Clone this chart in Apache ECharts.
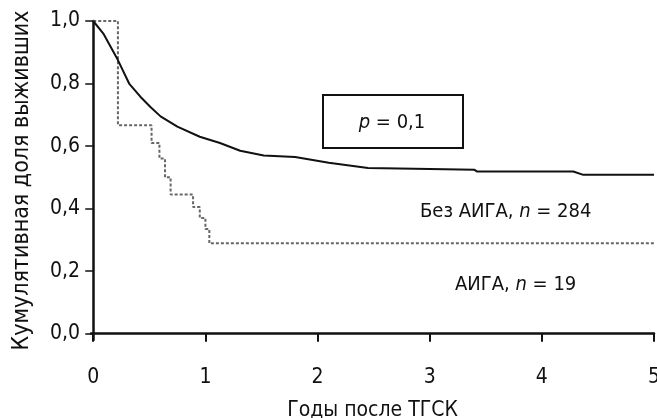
<!DOCTYPE html>
<html>
<head>
<meta charset="utf-8">
<script src="https://cdn.jsdelivr.net/npm/echarts@6/dist/echarts.min.js"></script>
<style>
  html, body { margin: 0; padding: 0; background: #fff; }
  #main { width: 657px; height: 418px; }
</style>
</head>
<body>
<div id="main"></div>
<script>
// Группа без АИГА (n = 284): годы и доля выживших
const noAigaYears = [0, 0.09, 0.22, 0.32, 0.42, 0.51, 0.6, 0.75, 0.95, 1.13, 1.31, 1.52, 1.8, 2.1, 2.45, 3.0, 3.4, 3.42, 4.28, 4.37, 5.0];
const noAigaSurv  = [1.0, 0.96, 0.875, 0.80, 0.758, 0.725, 0.695, 0.662, 0.63, 0.61, 0.585, 0.57, 0.565, 0.547, 0.53, 0.527, 0.524, 0.519, 0.519, 0.508, 0.508];

// Группа АИГА (n = 19): ступенчатая кривая
const aigaYears = [0, 0.22, 0.52, 0.59, 0.64, 0.69, 0.89, 0.95, 1.0, 1.035, 5.0];
const aigaSurv  = [1.0, 0.667, 0.61, 0.56, 0.50, 0.445, 0.405, 0.37, 0.335, 0.289, 0.289];

// подписи осей
const xTicks = [0, 1, 2, 3, 4, 5];
const yTicks = [0, 0.2, 0.4, 0.6, 0.8, 1.0];

const font = "'Liberation Sans Narrow', 'DejaVu Sans Condensed', 'Noto Sans'";
const chart = echarts.init(document.getElementById('main'));

const zip = (xs, ys) => xs.map((x, i) => [x, ys[i]]);

const richText = {
  i: { fontFamily: font, fontSize: 20, fontStyle: 'italic', fill: '#111' },
  a: { fontFamily: font, fontSize: 20, fill: '#111' }
};

chart.setOption({
  animation: false,
  backgroundColor: '#fff',
  textStyle: { fontFamily: font },
  grid: { left: 91, right: 3, top: 21, bottom: 78, outerBoundsMode: 'none', containLabel: false },
  xAxis: {
    type: 'value',
    min: -0.02,
    max: 5,
    name: 'Годы после ТГСК',
    nameLocation: 'middle',
    nameGap: 60,
    nameTextStyle: { fontFamily: font, fontSize: 21, color: '#111' },
    splitLine: { show: false },
    axisLine: { lineStyle: { color: '#111', width: 2.5 } },
    axisTick: { customValues: xTicks, length: 8, lineStyle: { color: '#111', width: 2 } },
    axisLabel: {
      customValues: xTicks,
      margin: 27,
      fontFamily: font, fontSize: 21, color: '#111',
      formatter: v => String(Math.round(v))
    }
  },
  yAxis: {
    type: 'value',
    min: -0.02,
    max: 1,
    name: 'Кумулятивная доля выживших',
    nameLocation: 'middle',
    nameGap: 57,
    nameTextStyle: { fontFamily: font, fontSize: 23, color: '#111' },
    splitLine: { show: false },
    axisLine: { lineStyle: { color: '#111', width: 2.5 } },
    axisTick: { customValues: yTicks, length: 8, lineStyle: { color: '#111', width: 1.5 } },
    axisLabel: {
      customValues: yTicks,
      margin: 11,
      fontFamily: font, fontSize: 21, color: '#111',
      formatter: v => v.toFixed(1).replace('.', ',')
    }
  },
  series: [
    {
      name: 'Без АИГА',
      type: 'line',
      data: zip(noAigaYears, noAigaSurv),
      showSymbol: false,
      lineStyle: { color: '#111', width: 2 },
      z: 3
    },
    {
      name: 'АИГА',
      type: 'line',
      step: 'end',
      data: zip(aigaYears, aigaSurv),
      showSymbol: false,
      lineStyle: { color: '#666', width: 2, type: [3, 2] },
      z: 2
    }
  ],
  graphic: [
    {
      type: 'rect',
      shape: { x: 323, y: 95, width: 140, height: 53 },
      style: { fill: '#fff', stroke: '#111', lineWidth: 2 },
      z: 10
    },
    {
      type: 'text',
      x: 392, y: 123,
      style: { text: '{i|p}{a| = 0,1}', align: 'center', verticalAlign: 'middle', rich: richText },
      z: 11
    },
    {
      type: 'text',
      x: 420, y: 212,
      style: { text: '{a|Без АИГА, }{i|n}{a| = 284}', verticalAlign: 'middle', rich: richText },
      z: 11
    },
    {
      type: 'text',
      x: 455, y: 285,
      style: { text: '{a|АИГА, }{i|n}{a| = 19}', verticalAlign: 'middle', rich: richText },
      z: 11
    }
  ]
});

window.addEventListener('resize', () => chart.resize());
</script>
</body>
</html>
